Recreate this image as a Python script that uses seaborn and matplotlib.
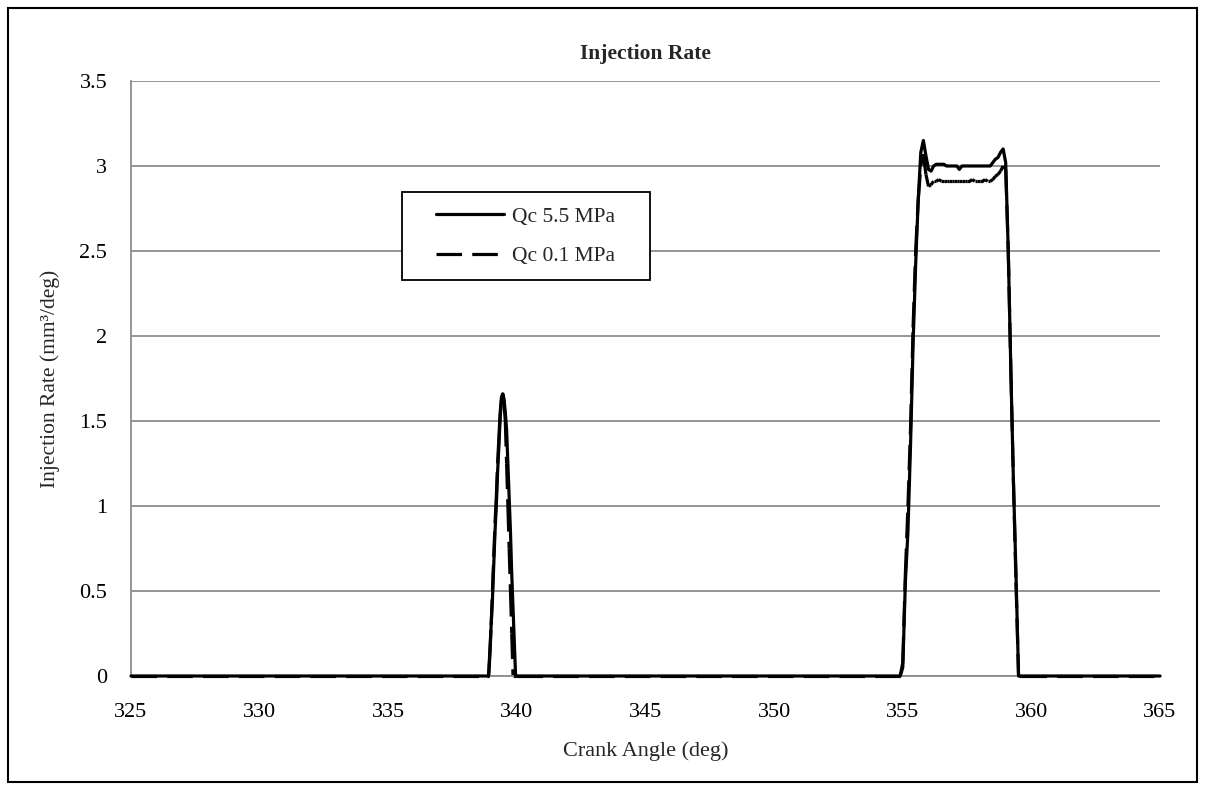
import numpy as np
import pandas as pd
import matplotlib
matplotlib.use("Agg")
import matplotlib.pyplot as plt
from matplotlib.patches import Rectangle
from matplotlib.collections import LineCollection
from matplotlib.ticker import FuncFormatter
import seaborn as sns

# crank angle (deg) sample points
angle_small = [338.85, 338.90, 338.95, 339.00, 339.05, 339.10, 339.15, 339.20,
               339.25, 339.30, 339.35, 339.40, 339.45, 339.50, 339.55, 339.60,
               339.65, 339.70, 339.75, 339.80, 339.85, 339.90, 339.95, 340.00]
angle_big = [354.9, 355.0, 355.1, 355.2, 355.3, 355.4, 355.5, 355.6, 355.7,
             355.8, 355.9, 356.0, 356.1, 356.2, 356.3, 356.4, 356.5, 356.6,
             356.7, 356.8, 356.9, 357.0, 357.1, 357.2, 357.3, 357.4, 357.5,
             357.6, 357.7, 357.8, 357.9, 358.0, 358.1, 358.2, 358.3, 358.4,
             358.5, 358.6, 358.7, 358.8, 358.9, 359.0, 359.1, 359.2, 359.3,
             359.4, 359.5, 359.6]

# injection rate (mm3/deg), Qc 5.5 MPa
rate_55_small = [0, 0, 0.15, 0.30, 0.45, 0.65, 0.85, 1.00, 1.20, 1.35, 1.52,
                 1.62, 1.66, 1.63, 1.55, 1.45, 1.25, 1.05, 0.85, 0.60, 0.40,
                 0.20, 0, 0]
rate_55_big = [0, 0.05, 0.55, 0.85, 1.35, 1.95, 2.42, 2.80, 3.08, 3.15, 3.06,
               2.98, 2.97, 3.00, 3.01, 3.01, 3.01, 3.01, 3.00, 3.00, 3.00,
               3.00, 3.00, 2.98, 3.00, 3.00, 3.00, 3.00, 3.00, 3.00, 3.00,
               3.00, 3.00, 3.00, 3.00, 3.00, 3.02, 3.04, 3.05, 3.08, 3.10,
               3.02, 2.50, 1.80, 1.15, 0.60, 0, 0]

# injection rate (mm3/deg), Qc 0.1 MPa
rate_01_small = [0, 0, 0.12, 0.30, 0.50, 0.70, 0.90, 1.05, 1.25, 1.40, 1.55,
                 1.64, 1.66, 1.60, 1.50, 1.25, 1.00, 0.75, 0.50, 0.25, 0,
                 0, 0, 0]
rate_01_big = [0, 0.08, 0.60, 1.00, 1.45, 2.05, 2.50, 2.80, 3.00, 3.07, 2.95,
               2.88, 2.89, 2.91, 2.91, 2.92, 2.91, 2.91, 2.91, 2.91, 2.91,
               2.91, 2.91, 2.91, 2.91, 2.91, 2.91, 2.91, 2.92, 2.91, 2.91,
               2.91, 2.91, 2.92, 2.91, 2.91, 2.92, 2.94, 2.95, 2.97, 3.00,
               2.98, 2.50, 1.80, 1.15, 0.55, 0, 0]

angle_start, angle_end = 325, 365
series_names = ["Qc 5.5 MPa", "Qc 0.1 MPa"]

angles = [angle_start] + angle_small + angle_big + [angle_end]
df = pd.concat([
    pd.DataFrame({"angle": angles, "rate": [0] + rate_55_small + rate_55_big + [0],
                  "series": series_names[0]}),
    pd.DataFrame({"angle": angles, "rate": [0] + rate_01_small + rate_01_big + [0],
                  "series": series_names[1]}),
])

sns.set_style("white")
plt.rcParams["font.family"] = ["Liberation Serif", "DejaVu Serif"]

fig = plt.figure(figsize=(12.05, 7.9), dpi=100)
ax = fig.add_axes([0.1087, 0.1443, 0.8540, 0.7532])

grid_col = "#8c8c8c"
ax.yaxis.grid(True, color=grid_col, linewidth=1.3)
ax.xaxis.grid(False)
ax.set_axisbelow(True)

lw = 2.3
dash = (8, 3.2)
sns.lineplot(data=df, x="angle", y="rate", style="series",
             style_order=series_names,
             dashes={series_names[0]: "", series_names[1]: dash},
             color="black", linewidth=lw, estimator=None, sort=False, ax=ax)

# Excel-style dashes: the pattern restarts on every segment, so the
# densely sampled plateau of the dashed curve looks continuous
old_leg = ax.get_legend()
handles = old_leg.legend_handles
labels = [t.get_text() for t in old_leg.get_texts()]
old_leg.remove()
for line in list(ax.lines):
    line.set_clip_on(False)
    if line.get_linestyle() != "-":
        xy = line.get_xydata()
        segs = np.stack([xy[:-1], xy[1:]], axis=1)
        lc = LineCollection(segs, colors="black", linewidths=lw,
                            linestyles=[(0, dash)], zorder=2, clip_on=False,
                            capstyle="butt")
        ax.add_collection(lc)
        line.remove()
    else:
        line.set_zorder(3)

ax.set_xlim(325, 365)
ax.set_ylim(0, 3.5)
ax.set_xticks(range(325, 366, 5))
ax.set_yticks(np.arange(0, 3.51, 0.5))
ax.yaxis.set_major_formatter(FuncFormatter(lambda v, p: f"{v:g}"))
ax.tick_params(axis="both", labelsize=16, colors="black", length=6,
               width=1.3, color=grid_col, direction="out")
ax.tick_params(axis="x", pad=13.5)
ax.tick_params(axis="y", pad=11)

for s in ["top", "right"]:
    ax.spines[s].set_visible(False)
for s in ["left", "bottom"]:
    ax.spines[s].set_color(grid_col)
    ax.spines[s].set_linewidth(1.3)

ax.set_title("Injection Rate", fontsize=15.5, fontweight="bold", pad=15.5)
ax.set_xlabel("Crank Angle (deg)", fontsize=16, labelpad=13.5)
ax.set_ylabel("Injection Rate (mm³/deg)", fontsize=15.5, labelpad=14)

# legend box drawn separately so its padding matches the reference
ax.add_patch(Rectangle((0.263, 0.666), 0.241, 0.147, transform=ax.transAxes,
                       facecolor="white", edgecolor="black", linewidth=1.3,
                       zorder=4))
leg = ax.legend(handles, labels, loc="center", bbox_to_anchor=(0.3835, 0.7387),
                fontsize=15.5, frameon=False, handlelength=3.15,
                labelspacing=0.9, handletextpad=0.37, borderaxespad=0,
                borderpad=0)
leg.set_zorder(5)
for h in leg.get_lines():
    h.set_linewidth(lw)
    h.set_color("black")

# outer chart frame
fig.patches.append(Rectangle((8 / 1205, 8 / 790), 1189 / 1205, 774 / 790,
                             transform=fig.transFigure, fill=False,
                             edgecolor="black", linewidth=1.5))

fig.savefig("out.png", dpi=100, facecolor="white")
